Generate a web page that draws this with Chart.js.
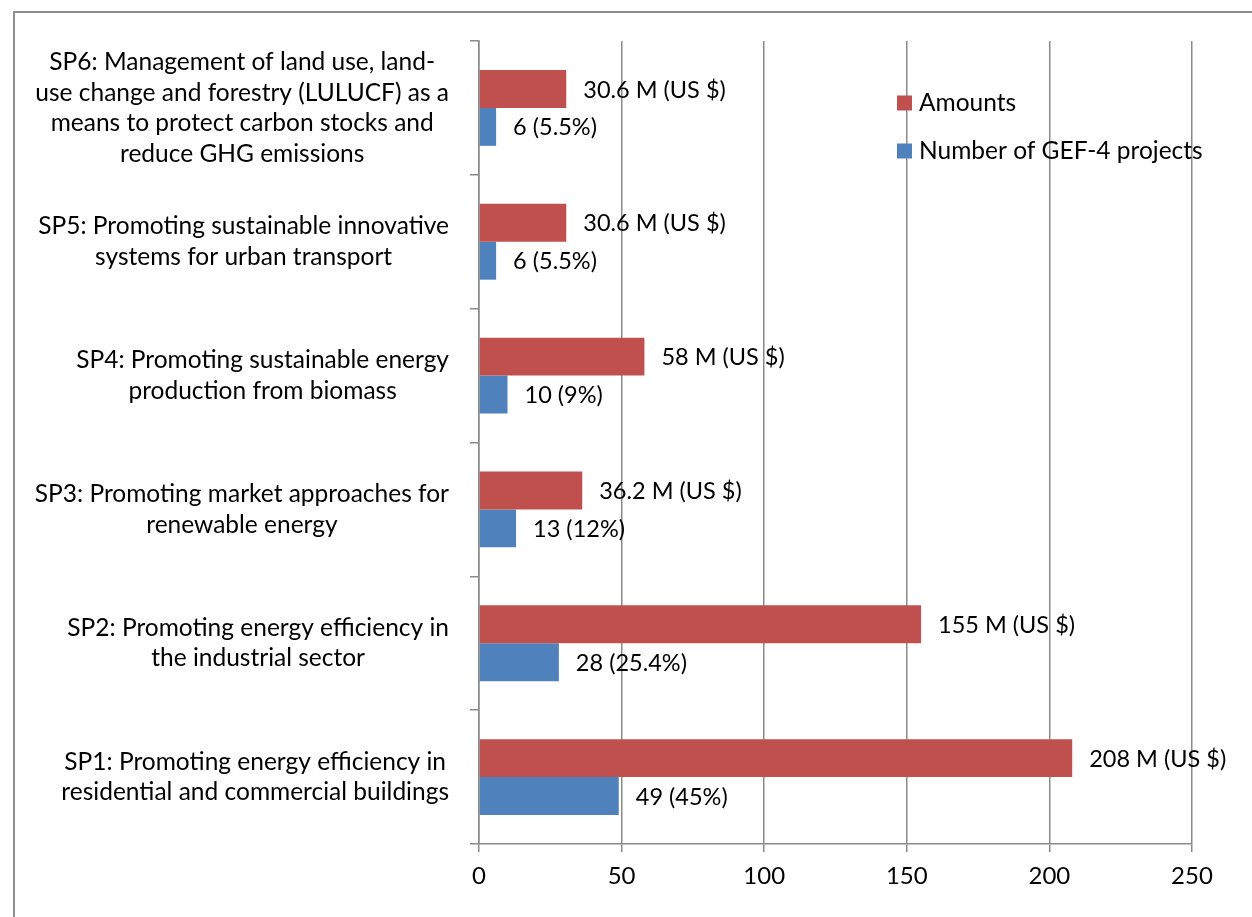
<!DOCTYPE html>
<html>
<head>
<meta charset="utf-8">
<script src="https://cdn.jsdelivr.net/npm/chart.js@4.4.0/dist/chart.umd.min.js"></script>
<style>
  html, body { margin: 0; padding: 0; background: #fff; overflow: hidden; }
  #wrap { position: relative; width: 1252px; height: 917px; }
  #frame { position: absolute; left: 13px; top: 11px; width: 1400px; height: 1100px;
           border: 2px solid #8e8e8e; box-sizing: border-box; pointer-events: none; }
</style>
</head>
<body>
<div id="wrap">
  <canvas id="c" width="1252" height="917"></canvas>
  <div id="frame"></div>
</div>
<script>
// Strategic programmes (top to bottom), each label split into its wrapped lines
const categories = [
  ["SP6: Management of land use, land-", "use change and forestry (LULUCF) as a", "means to protect carbon stocks and", "reduce GHG emissions"],
  ["SP5: Promoting sustainable innovative", "systems for urban transport"],
  ["SP4: Promoting sustainable energy", "production from biomass"],
  ["SP3: Promoting market approaches for", "renewable energy"],
  ["SP2: Promoting energy efficiency in", "the industrial sector"],
  ["SP1: Promoting energy efficiency in", "residential and commercial buildings"]
];
const amountsMillionUSD = [30.6, 30.6, 58, 36.2, 155, 208];
const projectCounts = [6, 6, 10, 13, 28, 49];
const projectSharePct = ["5.5", "5.5", "9", "12", "25.4", "45"];
const xTickValues = [0, 50, 100, 150, 200, 250];
const seriesNames = ["Amounts", "Number of GEF-4 projects"];

const RED = '#C0504D';
const BLUE = '#4F81BD';
const GRID = '#8a8a8a';
const FONT = 'Lato';
const FSIZE = 24.5;
const VSIZE = 23.5;
const TSIZE = 24;

const amountLabels = amountsMillionUSD.map(v => `${v} M (US $)`);
const countLabels = projectCounts.map((n, i) => `${n} (${projectSharePct[i]}%)`);

// Value labels just past the end of every bar
const valueLabelPlugin = {
  id: 'valueLabels',
  afterDatasetsDraw(chart) {
    const ctx = chart.ctx;
    const texts = [amountLabels, countLabels];
    ctx.save();
    ctx.font = `${VSIZE}px ${FONT}`;
    ctx.fillStyle = '#000';
    ctx.textAlign = 'left';
    ctx.textBaseline = 'middle';
    chart.data.datasets.forEach((ds, di) => {
      chart.getDatasetMeta(di).data.forEach((bar, i) => {
        ctx.fillText(texts[di][i], bar.x + 17, bar.y + 1);
      });
    });
    ctx.restore();
  }
};

// Category labels: each block right-aligned to the axis, lines centred within the block
const categoryLabelPlugin = {
  id: 'categoryLabels',
  afterDraw(chart) {
    const ctx = chart.ctx;
    const ys = chart.scales.y;
    const right = chart.chartArea.left - 30;
    const lh = 30.5;
    ctx.save();
    ctx.font = `${FSIZE}px ${FONT}`;
    ctx.fillStyle = '#000';
    ctx.textAlign = 'center';
    ctx.textBaseline = 'middle';
    chart.data.labels.forEach((lines, i) => {
      const cy = ys.getPixelForValue(i);
      const w = Math.max(...lines.map(l => ctx.measureText(l).width));
      const cx = right - w / 2;
      lines.forEach((l, k) => {
        ctx.fillText(l, cx, cy + (k - (lines.length - 1) / 2) * lh);
      });
    });
    ctx.restore();
  }
};

// Legend drawn inside the plot area, top right
const innerLegendPlugin = {
  id: 'innerLegend',
  afterDraw(chart) {
    const ctx = chart.ctx;
    const ca = chart.chartArea;
    const x0 = ca.right - 295;
    const y0 = ca.top + 62;
    ctx.save();
    ctx.font = `${FSIZE}px ${FONT}`;
    ctx.textAlign = 'left';
    ctx.textBaseline = 'middle';
    chart.data.datasets.forEach((ds, i) => {
      const y = y0 + i * 48;
      ctx.fillStyle = ds.backgroundColor;
      ctx.fillRect(x0, y - 7.5, 15, 15);
      ctx.fillStyle = '#000';
      ctx.fillText(ds.label, x0 + 22, y);
    });
    ctx.restore();
  }
};

function draw() {
  new Chart(document.getElementById('c'), {
    type: 'bar',
    data: {
      labels: categories,
      datasets: [
        { label: seriesNames[0], data: amountsMillionUSD, backgroundColor: RED,
          categoryPercentage: 0.567, barPercentage: 1.0 },
        { label: seriesNames[1], data: projectCounts, backgroundColor: BLUE,
          categoryPercentage: 0.567, barPercentage: 1.0 }
      ]
    },
    options: {
      indexAxis: 'y',
      responsive: false,
      animation: false,
      layout: { padding: { top: 41, right: 60, bottom: 0, left: 0 } },
      plugins: { legend: { display: false }, tooltip: { enabled: false } },
      scales: {
        x: {
          min: 0, max: 250,
          afterBuildTicks: s => { s.ticks = xTickValues.map(v => ({ value: v })); },
          grid: { color: GRID, lineWidth: 1.5, tickLength: 8, drawTicks: true },
          border: { color: GRID, width: 1.5 },
          ticks: { color: '#000', padding: 10, font: { family: FONT, size: TSIZE } },
          afterFit: s => { s.height = 73; }
        },
        y: {
          grid: { drawOnChartArea: false, color: GRID, lineWidth: 1.5, tickLength: 9, offset: true },
          border: { color: GRID, width: 1.5 },
          ticks: { display: false },
          afterFit: s => { s.width = 479; }
        }
      }
    },
    plugins: [valueLabelPlugin, categoryLabelPlugin, innerLegendPlugin]
  });
}

if (document.fonts && document.fonts.load) {
  document.fonts.load(`${FSIZE}px ${FONT}`).then(draw, draw);
} else {
  draw();
}
</script>
</body>
</html>
